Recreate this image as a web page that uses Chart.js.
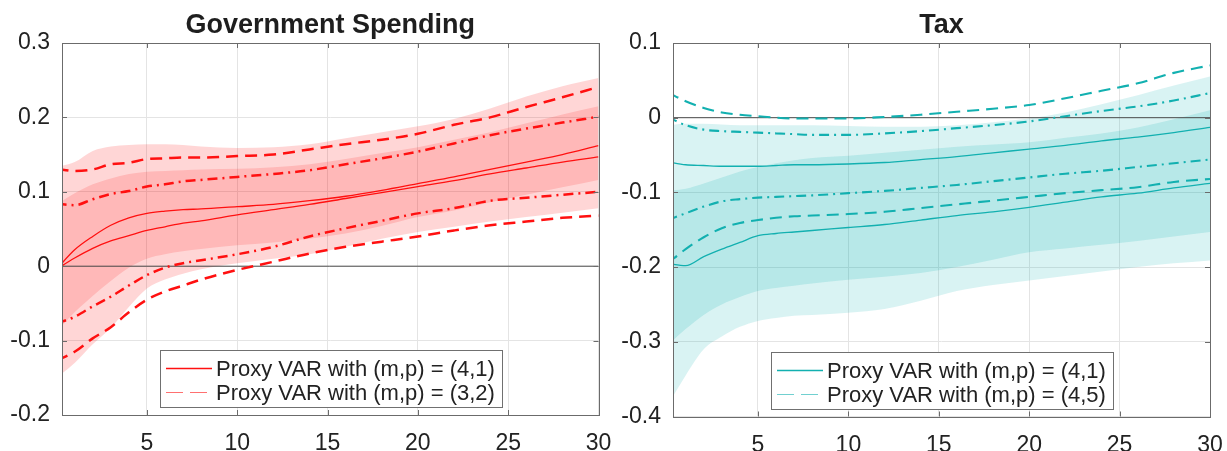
<!DOCTYPE html>
<html>
<head>
<meta charset="utf-8">
<script src="https://cdn.jsdelivr.net/npm/chart.js@4.4.1/dist/chart.umd.min.js"></script>
<style>
  html, body { margin: 0; padding: 0; background: #fff; }
  #wrap { width: 1227px; height: 451px; display: flex; }
  canvas { display: block; }
</style>
</head>
<body>
<div id="wrap">
  <canvas id="gov" width="613" height="451"></canvas>
  <canvas id="tax" width="614" height="451"></canvas>
</div>
<script>
// impulse horizons (quarters)
const horizon = [0, 1, 2, 3, 4, 5, 6, 7, 8, 10, 12, 14, 16, 18, 20, 22, 24, 26, 28, 30];
const xTicks = [5, 10, 15, 20, 25, 30];

// Government spending responses
const govYTicks = [-0.2, -0.1, 0, 0.1, 0.2, 0.3];
const govSolidHi = [-0.004, 0.022, 0.040, 0.055, 0.065, 0.071, 0.074, 0.076, 0.077, 0.080, 0.083, 0.088, 0.094, 0.102, 0.111, 0.120, 0.130, 0.140, 0.150, 0.162];
const govSolidLo = [-0.004, 0.011, 0.024, 0.034, 0.041, 0.048, 0.053, 0.058, 0.061, 0.069, 0.076, 0.083, 0.091, 0.099, 0.107, 0.115, 0.124, 0.132, 0.140, 0.147];
const govDashHi = [0.131, 0.128, 0.130, 0.137, 0.139, 0.144, 0.145, 0.146, 0.146, 0.148, 0.150, 0.157, 0.164, 0.170, 0.178, 0.190, 0.200, 0.214, 0.227, 0.241];
const govDashLo = [-0.127, -0.115, -0.097, -0.082, -0.062, -0.045, -0.034, -0.026, -0.018, -0.005, 0.006, 0.017, 0.026, 0.033, 0.040, 0.048, 0.055, 0.060, 0.065, 0.068];
const govDotHi = [0.084, 0.082, 0.090, 0.097, 0.101, 0.107, 0.110, 0.114, 0.116, 0.120, 0.124, 0.129, 0.137, 0.145, 0.154, 0.165, 0.176, 0.185, 0.193, 0.201];
const govDotLo = [-0.077, -0.068, -0.054, -0.041, -0.026, -0.012, -0.002, 0.004, 0.008, 0.016, 0.026, 0.040, 0.051, 0.061, 0.071, 0.078, 0.088, 0.092, 0.096, 0.100];
const govDarkHi = [0.083, 0.098, 0.110, 0.118, 0.124, 0.127, 0.128, 0.129, 0.130, 0.131, 0.133, 0.137, 0.144, 0.152, 0.160, 0.170, 0.180, 0.192, 0.204, 0.215];
const govDarkLo = [-0.088, -0.062, -0.040, -0.020, -0.002, 0.010, 0.016, 0.020, 0.023, 0.028, 0.032, 0.037, 0.044, 0.054, 0.066, 0.075, 0.086, 0.096, 0.106, 0.116];
const govLightHi = [0.133, 0.140, 0.155, 0.161, 0.163, 0.164, 0.164, 0.163, 0.161, 0.159, 0.160, 0.164, 0.172, 0.180, 0.188, 0.198, 0.212, 0.228, 0.242, 0.253];
const govLightLo = [-0.150, -0.130, -0.105, -0.083, -0.055, -0.030, -0.018, -0.010, -0.004, 0.004, 0.010, 0.016, 0.026, 0.037, 0.046, 0.053, 0.060, 0.066, 0.072, 0.078];

// Tax responses
const taxYTicks = [-0.4, -0.3, -0.2, -0.1, 0, 0.1];
const taxSolidHi = [-0.059, -0.063, -0.064, -0.065, -0.065, -0.065, -0.064, -0.063, -0.063, -0.062, -0.060, -0.056, -0.052, -0.047, -0.042, -0.037, -0.031, -0.026, -0.020, -0.013];
const taxSolidLo = [-0.195, -0.198, -0.186, -0.176, -0.167, -0.158, -0.155, -0.153, -0.151, -0.147, -0.143, -0.137, -0.131, -0.126, -0.120, -0.113, -0.106, -0.101, -0.094, -0.088];
const taxDashHi = [0.034, 0.022, 0.013, 0.007, 0.004, 0.002, 0.000, -0.001, -0.001, -0.001, 0.001, 0.004, 0.008, 0.012, 0.017, 0.026, 0.036, 0.046, 0.060, 0.070];
const taxDashLo = [-0.195, -0.176, -0.160, -0.148, -0.141, -0.137, -0.134, -0.132, -0.131, -0.129, -0.126, -0.121, -0.116, -0.111, -0.106, -0.101, -0.097, -0.093, -0.086, -0.082];
const taxDotHi = [0.001, -0.010, -0.016, -0.018, -0.019, -0.020, -0.021, -0.022, -0.023, -0.023, -0.021, -0.018, -0.014, -0.010, -0.005, 0.002, 0.009, 0.015, 0.023, 0.033];
const taxDotLo = [-0.137, -0.128, -0.119, -0.112, -0.109, -0.107, -0.106, -0.105, -0.104, -0.101, -0.098, -0.094, -0.090, -0.085, -0.080, -0.075, -0.071, -0.066, -0.061, -0.056];
const taxDarkHi = [-0.098, -0.095, -0.088, -0.080, -0.072, -0.066, -0.061, -0.057, -0.054, -0.051, -0.047, -0.043, -0.039, -0.036, -0.033, -0.027, -0.021, -0.013, -0.002, 0.010];
const taxDarkLo = [-0.305, -0.283, -0.264, -0.250, -0.240, -0.232, -0.228, -0.225, -0.222, -0.217, -0.213, -0.208, -0.200, -0.190, -0.180, -0.175, -0.170, -0.165, -0.159, -0.153];
const taxLightHi = [-0.010, -0.008, -0.008, -0.009, -0.010, -0.010, -0.010, -0.010, -0.010, -0.011, -0.012, -0.012, -0.010, -0.006, -0.001, 0.007, 0.018, 0.030, 0.043, 0.055];
const taxLightLo = [-0.385, -0.345, -0.310, -0.293, -0.280, -0.272, -0.268, -0.265, -0.264, -0.261, -0.256, -0.245, -0.232, -0.224, -0.218, -0.212, -0.206, -0.200, -0.195, -0.191];

const FONT = "'Liberation Sans', Arial, Helvetica, sans-serif";
const DASH = [12, 7];
const DASH_DOT = [10, 5, 2, 5];

const pts = (arr) => arr.map((v, i) => ({ x: horizon[i], y: v }));

// title centred over the plotting area rather than the whole canvas
const axesTitle = {
  id: 'axesTitle',
  afterDraw(chart, args, opts) {
    const { ctx, chartArea: a } = chart;
    ctx.save();
    ctx.fillStyle = '#1e1e1e';
    ctx.font = 'bold 27px ' + FONT;
    ctx.textAlign = 'center';
    ctx.textBaseline = 'alphabetic';
    ctx.fillText(opts.text, (a.left + a.right) / 2, 33);
    ctx.restore();
  }
};

// box around the axes with inward tick marks
const axesFrame = {
  id: 'axesFrame',
  afterDatasetsDraw(chart) {
    const { ctx, chartArea: a, scales } = chart;
    ctx.save();
    ctx.strokeStyle = '#6b6b6b';
    ctx.lineWidth = 1;
    ctx.setLineDash([]);
    ctx.beginPath();
    scales.x.ticks.forEach(t => {
      const px = Math.round(scales.x.getPixelForValue(t.value)) + 0.5;
      ctx.moveTo(px, a.bottom); ctx.lineTo(px, a.bottom - 5);
      ctx.moveTo(px, a.top); ctx.lineTo(px, a.top + 5);
    });
    scales.y.ticks.forEach(t => {
      const py = Math.round(scales.y.getPixelForValue(t.value)) + 0.5;
      ctx.moveTo(a.left, py); ctx.lineTo(a.left + 5, py);
      ctx.moveTo(a.right, py); ctx.lineTo(a.right - 5, py);
    });
    ctx.stroke();
    ctx.strokeRect(Math.round(a.left) + 0.5, Math.round(a.top) + 0.5,
      Math.round(a.right - a.left), Math.round(a.bottom - a.top));
    ctx.restore();
  }
};

// legend box in the lower right of the axes
const boxLegend = {
  id: 'boxLegend',
  afterDatasetsDraw(chart, args, opts) {
    const { ctx, chartArea: a } = chart;
    const w = 342, h = 57;
    const x = Math.round(a.right - 97 - w), y = Math.round(a.bottom - 8 - h);
    ctx.save();
    ctx.fillStyle = '#fff';
    ctx.fillRect(x, y, w, h);
    ctx.strokeStyle = '#707070';
    ctx.lineWidth = 1;
    ctx.strokeRect(x + 0.5, y + 0.5, w, h);
    opts.entries.forEach((e, i) => {
      const ds = chart.data.datasets[e.dataset];
      const cy = y + 18.5 + i * 24;
      ctx.save();
      ctx.globalAlpha = e.alpha;
      ctx.strokeStyle = ds.borderColor;
      ctx.lineWidth = e.width;
      ctx.setLineDash(e.dash);
      ctx.beginPath();
      ctx.moveTo(x + 6, cy);
      ctx.lineTo(x + 52, cy);
      ctx.stroke();
      ctx.restore();
      ctx.fillStyle = '#222';
      ctx.font = '22px ' + FONT;
      ctx.textBaseline = 'middle';
      ctx.fillText(ds.label, x + 56, cy + 1);
    });
    ctx.restore();
  }
};

function line(label, data, color, width, dash) {
  return {
    label: label, data: pts(data), borderColor: color, borderWidth: width,
    borderDash: dash, pointRadius: 0, fill: false, borderCapStyle: 'butt'
  };
}

function band(data, fillColor, fillTo) {
  return {
    label: '', data: pts(data), borderWidth: 0, borderColor: 'rgba(0,0,0,0)',
    pointRadius: 0, backgroundColor: fillColor, fill: fillTo
  };
}

function makePanel(id, p) {
  const datasets = [
    line(p.labelA, p.solidHi, p.color, 1.3, []),
    line('', p.solidLo, p.color, 1.3, []),
    line(p.labelB, p.dashHi, p.color, p.thick, DASH),
    line('', p.dashLo, p.color, p.thick, DASH),
    line('', p.dotHi, p.color, p.thick, DASH_DOT),
    line('', p.dotLo, p.color, p.thick, DASH_DOT),
    { label: '', data: [{ x: 0, y: 0 }, { x: 30, y: 0 }], borderColor: '#4a4a4a',
      borderWidth: 1, pointRadius: 0, fill: false },
    band(p.darkHi, p.dark, '+1'),
    band(p.darkLo, p.dark, false),
    band(p.lightHi, p.light, '+1'),
    band(p.lightLo, p.light, false)
  ];

  return new Chart(document.getElementById(id), {
    type: 'line',
    data: { datasets: datasets },
    plugins: [axesFrame, boxLegend, axesTitle],
    options: {
      responsive: false,
      animation: false,
      layout: { padding: { left: 0, right: p.padRight, top: 43, bottom: 0 } },
      elements: { line: { cubicInterpolationMode: 'monotone' } },
      plugins: {
        legend: { display: false },
        tooltip: { enabled: false },
        title: { display: false },
        axesTitle: { text: p.title },
        boxLegend: {
          entries: [
            { dataset: 0, dash: [], width: 1.6, alpha: 1 },
            { dataset: 2, dash: [17, 7], width: 1.2, alpha: 0.6 }
          ]
        }
      },
      scales: {
        x: {
          type: 'linear', min: 0.3, max: 30,
          afterBuildTicks: (s) => { s.ticks = xTicks.map(v => ({ value: v })); },
          afterFit: (s) => { s.height = p.xAxisHeight; s.paddingLeft = 0; s.paddingRight = 0; },
          grid: { color: '#e4e4e4', drawTicks: false },
          border: { display: false },
          ticks: { color: '#222', padding: 15, maxRotation: 0,
                   font: { family: FONT, size: 23 } }
        },
        y: {
          type: 'linear', min: p.yTicks[0], max: p.yTicks[p.yTicks.length - 1],
          afterBuildTicks: (s) => { s.ticks = p.yTicks.map(v => ({ value: v })); },
          afterFit: (s) => { s.width = p.areaLeft; s.paddingTop = 0; s.paddingBottom = 0; },
          grid: { color: '#e4e4e4', drawTicks: false },
          border: { display: false },
          ticks: { color: '#222', padding: 12,
                   font: { family: FONT, size: 23 },
                   callback: (v) => String(+v.toFixed(1)) }
        }
      }
    }
  });
}

makePanel('gov', {
  title: 'Government Spending',
  labelA: 'Proxy VAR with (m,p) = (4,1)',
  labelB: 'Proxy VAR with (m,p) = (3,2)',
  color: '#ff1010', thick: 2.5,
  light: 'rgba(255,0,0,0.16)', dark: 'rgba(255,0,0,0.14)',
  yTicks: govYTicks, areaLeft: 62, xAxisHeight: 36, padRight: 14.5,
  solidHi: govSolidHi, solidLo: govSolidLo,
  dashHi: govDashHi, dashLo: govDashLo,
  dotHi: govDotHi, dotLo: govDotLo,
  darkHi: govDarkHi, darkLo: govDarkLo,
  lightHi: govLightHi, lightLo: govLightLo
});

makePanel('tax', {
  title: 'Tax',
  labelA: 'Proxy VAR with (m,p) = (4,1)',
  labelB: 'Proxy VAR with (m,p) = (4,5)',
  color: '#12b0b0', thick: 2.1,
  light: 'rgba(0,176,176,0.15)', dark: 'rgba(0,176,176,0.16)',
  yTicks: taxYTicks, areaLeft: 60, xAxisHeight: 34.5, padRight: 17,
  solidHi: taxSolidHi, solidLo: taxSolidLo,
  dashHi: taxDashHi, dashLo: taxDashLo,
  dotHi: taxDotHi, dotLo: taxDotLo,
  darkHi: taxDarkHi, darkLo: taxDarkLo,
  lightHi: taxLightHi, lightLo: taxLightLo
});
</script>
</body>
</html>
